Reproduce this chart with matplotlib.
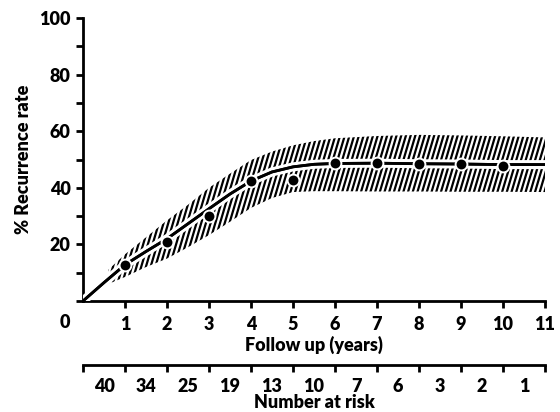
import numpy as np
import matplotlib
matplotlib.use("Agg")
import matplotlib.pyplot as plt
import matplotlib.patheffects as pe

plt.rcParams['font.family'] = ['Lato', 'DejaVu Sans']
FW = 'heavy'

# Observed recurrence rates (%)
years = [1, 2, 3, 4, 5, 6, 7, 8, 9, 10]
rate = [12.7, 21.0, 30.1, 42.4, 42.8, 48.6, 48.9, 48.4, 48.4, 47.8]

# Fitted curve
curve_x = [0, 0.5, 1, 1.5, 2, 2.5, 3, 3.5, 4, 4.5, 5, 5.5, 6, 7, 8, 9, 10, 11]
curve_y = [0, 6.5, 12.8, 17.5, 22.0, 27.3, 32.6, 37.8, 42.4, 45.6, 47.4, 48.3, 48.6,
           48.7, 48.5, 48.4, 48.2, 48.2]

# Confidence band
band_x = [0.6, 1, 1.5, 2, 2.5, 3, 3.5, 4, 4.5, 5, 5.5, 6, 7, 8, 9, 10, 11]
band_hi = [11, 16.5, 22.5, 28.5, 34, 40, 45, 49.8, 52.8, 55, 56.5, 57.5, 58.3, 58.7, 58.5,
           58.2, 57.8]
band_lo = [6, 8.5, 12, 15, 19, 23.3, 28, 32.9, 36.4, 38.5, 38.8, 38.8, 38.7, 38.7, 38.6,
           38.6, 38.5]

# Number at risk per year interval
at_risk = [40, 34, 25, 19, 13, 10, 7, 6, 3, 2, 1]

W, H = 560, 412
fig = plt.figure(figsize=(W / 100, H / 100), dpi=100)
left, right, top, bottom = 83, 545, 18, 301
ax = fig.add_axes([left / W, 1 - bottom / H, (right - left) / W, (bottom - top) / H])
ax.set_xlim(0, 11)
ax.set_ylim(0, 100)

# band with steep hatching clipped to the band polygon
poly = ax.fill_between(band_x, band_lo, band_hi, facecolor='none', edgecolor='none')
clip_path = poly.get_paths()[0]
slope = 50.0  # data units of y per year (steep stripes)
for x0 in np.arange(-3, 11.2, 0.112):
    ln, = ax.plot([x0, x0 + 100 / slope], [0, 100], color='black', lw=1.6,
                  solid_capstyle='butt', zorder=2)
    ln.set_clip_path(clip_path, poly.get_transform())

ax.plot(curve_x, curve_y, color='black', lw=2.0, zorder=3,
        path_effects=[pe.withStroke(linewidth=6.5, foreground='white'), pe.Normal()])
ax.plot(years, rate, 'o', color='black', ms=8.5, mec='white', mew=1.4, zorder=4)

for s in ['top', 'right']:
    ax.spines[s].set_visible(False)
for s in ['left', 'bottom']:
    ax.spines[s].set_linewidth(2.0)

ax.set_yticks(np.arange(0, 101, 10))
ax.set_yticklabels(['' if v % 20 or v == 0 else str(v) for v in range(0, 101, 10)],
                   fontweight=FW)
ax.set_xticks(np.arange(1, 12))
ax.set_xticklabels([str(v) for v in range(1, 12)], fontweight=FW)
ax.tick_params(axis='both', direction='out', length=5, width=2.0, labelsize=13, pad=4)
ax.tick_params(axis='x', pad=6)
ax.text(-0.42, -7.5, '0', fontsize=13, ha='center', va='center', fontweight=FW)
ax.set_xlabel('Follow up (years)', fontsize=13, fontweight=FW, labelpad=2)
ax.set_ylabel('% Recurrence rate', fontsize=13, fontweight=FW, labelpad=5)

# number-at-risk axis
yr = 365
ax2 = fig.add_axes([left / W, 1 - yr / H, (right - left) / W, 0.0001])
ax2.set_xlim(0, 11)
for s in ['left', 'right', 'bottom']:
    ax2.spines[s].set_visible(False)
ax2.spines['top'].set_linewidth(2.0)
ax2.set_yticks([])
ax2.set_xticks(np.arange(0, 12))
ax2.set_xticks(np.arange(0.5, 11, 1), minor=True)
ax2.set_xticklabels([str(v) for v in at_risk], minor=True, fontweight=FW)
ax2.tick_params(axis='x', which='major', top=True, bottom=False, direction='in',
                length=5, width=2.0, labeltop=False, labelbottom=False)
ax2.tick_params(axis='x', which='minor', bottom=True, top=False, labelbottom=True,
                labeltop=False, length=0, pad=9, labelsize=13)
ax2.set_xlabel('Number at risk', fontsize=13, fontweight=FW, labelpad=0)

fig.savefig('out.png', dpi=100)
